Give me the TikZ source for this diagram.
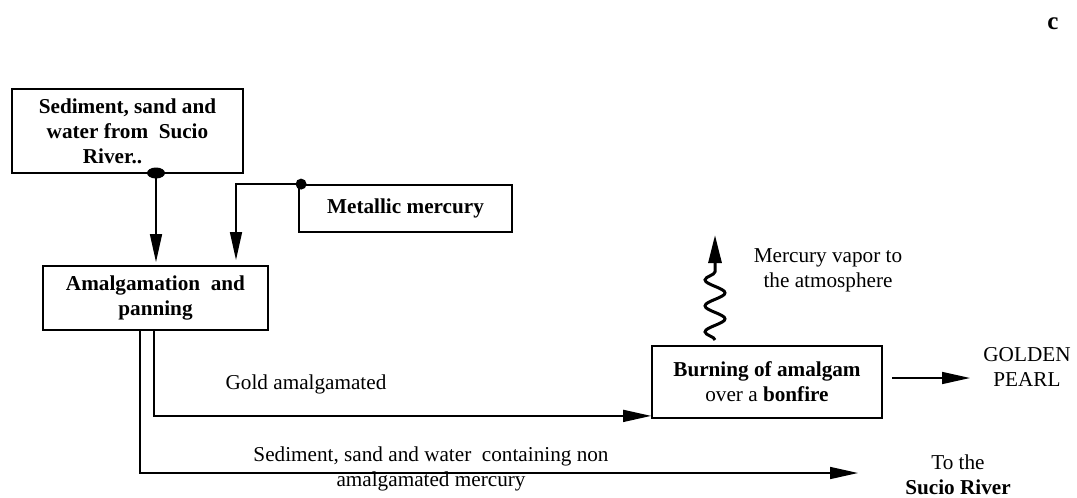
\documentclass[tikz,border=0pt]{standalone}
\usepackage{fontspec}
\setmainfont{Liberation Serif}
\usetikzlibrary{arrows.meta,decorations.pathmorphing}
\newcommand\dfont{\fontsize{10.6}{12.5}\selectfont}
\tikzset{
  box/.style={draw, line width=0.9pt, inner sep=0pt, align=center, font=\dfont\bfseries},
  txt/.style={inner sep=0pt, align=center, font=\dfont},
  arr/.style={line width=0.8pt, -{Triangle[length=14pt,width=6pt]}},
  wave/.style={line width=1.5pt, decorate, decoration={snake, amplitude=5pt, segment length=13pt, post length=14pt}, -{Triangle[length=14pt,width=6.5pt]}}
}
\begin{document}
\begin{tikzpicture}[x=0.5pt,y=-0.5pt]
\useasboundingbox (0,0) rectangle (1077,498);

\node[box, minimum width=115.5pt, minimum height=42pt] (src) at (127.5,131) {Sediment, sand and\\water from\ \ Sucio\\River..\hspace*{15pt}};
\node[box, minimum width=112.5pt, minimum height=32pt] (amal) at (155.5,298) {Amalgamation\ \ and\\panning};
\node[box, minimum width=106.5pt, minimum height=23.5pt] (hg) at (405.5,208.5) {Metallic mercury};
\node[box, minimum width=115pt, minimum height=36pt] (burn) at (767,382) {Burning of amalgam\\\mdseries over a \textbf{bonfire}};

\node[txt] (goldlbl) at (306,384) {Gold amalgamated};
\node[txt] (sedlbl) at (431,469) {Sediment, sand and water\ \ containing non\\amalgamated mercury};
\node[txt] (vapor) at (828,270) {Mercury vapor to\\the atmosphere};
\node[txt] (pearl) at (1027,367) {GOLDEN\\PEARL};
\node[txt] (river) at (958,475) {To the\\\textbf{Sucio River}};
\node[txt, font=\fontsize{12.5}{14}\selectfont\bfseries] (tag) at (1053,24) {c};

\coordinate (d1) at (156,173);
\coordinate (m1) at (236,266);
\coordinate (g0) at (154,330);
\coordinate (s0) at (140,330);
\coordinate (s1) at (858,473);
\coordinate (p0) at (892,378);
\coordinate (p1) at (970,378);
\coordinate (w0) at (715,340);
\coordinate (w1) at (715,235);

\draw[arr, shorten >=1.5pt] (d1) -- (d1 |- amal.north);
\fill (d1) ellipse [x radius=9, y radius=5.5];
\draw[arr, shorten >=3pt] ([xshift=1.5pt]hg.north west) -| (m1);
\fill ([xshift=1.5pt]hg.north west) circle [radius=5.5];
\draw[arr] (g0) |- ([yshift=1.5pt]burn.south west);
\draw[arr] (s0) |- (s1);
\draw[arr] (p0) -- (p1);
\draw[wave] (w0) -- (w1);

\end{tikzpicture}
\end{document}
